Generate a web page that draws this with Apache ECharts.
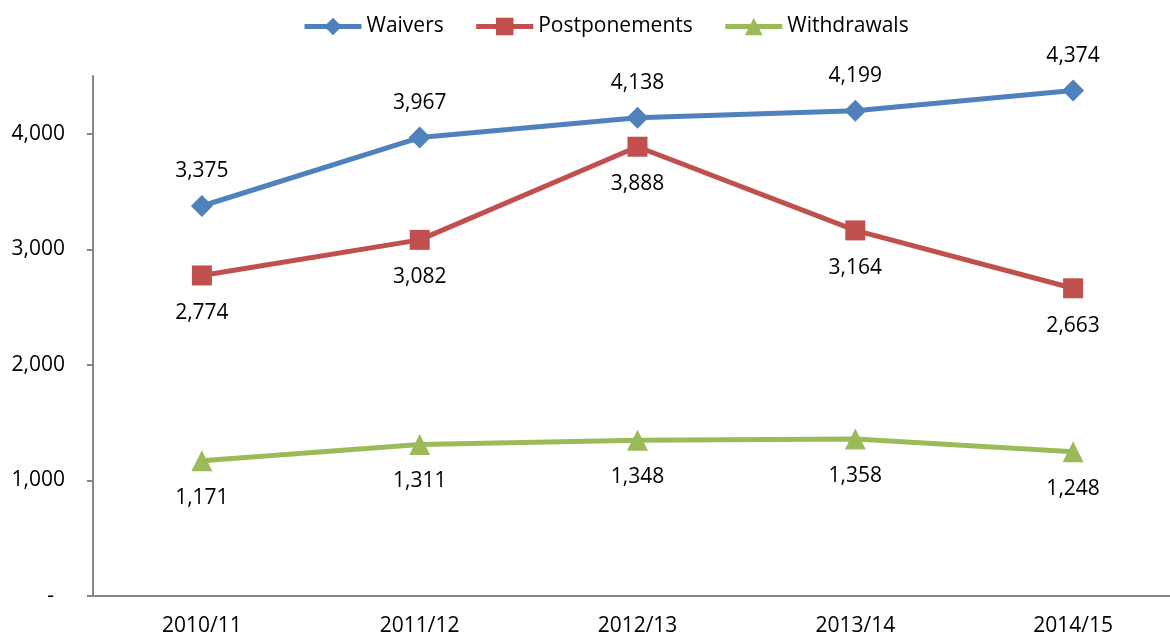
<!DOCTYPE html>
<html>
<head>
<meta charset="utf-8">
<script src="https://cdn.jsdelivr.net/npm/echarts@6/dist/echarts.min.js"></script>
<style>
  html, body { margin: 0; padding: 0; background: #fff; overflow: hidden; }
  #wrap { width: 1170px; height: 637px; overflow: hidden; }
  /* plot runs a little past the right edge, as in the original */
  #chart { width: 1182px; height: 637px; }
</style>
</head>
<body>
<div id="wrap"><div id="chart"></div></div>
<script>
  // data
  const years = ['2010/11', '2011/12', '2012/13', '2013/14', '2014/15']
  const waivers = [3375, 3967, 4138, 4199, 4374]
  const postponements = [2774, 3082, 3888, 3164, 2663]
  const withdrawals = [1171, 1311, 1348, 1358, 1248]
  const yTicks = [0, 1000, 2000, 3000, 4000]

  const font = 'Open Sans'
  const fmt = v => v === 0 ? '{d|-}' : v.toLocaleString('en-US')

  const chart = echarts.init(document.getElementById('chart'))

  const labelStyle = (pos, dist) => ({
    show: true,
    position: pos,
    distance: dist,
    color: '#000',
    fontFamily: font,
    fontSize: 21,
    formatter: p => p.value.toLocaleString('en-US')
  })

  chart.setOption({
    animation: false,
    legend: {
      top: 11,
      left: 297,
      itemWidth: 57,
      itemHeight: 22,
      itemGap: 30,
      lineStyle: { width: 5 },
      textStyle: { fontFamily: font, fontSize: 21, color: '#000' },
      data: ['Waivers', 'Postponements', 'Withdrawals']
    },
    grid: {
      left: 93,
      right: 0,
      top: 76,
      bottom: 40,
      containLabel: false
    },
    xAxis: {
      type: 'category',
      data: years,
      boundaryGap: true,
      axisLine: { lineStyle: { color: '#868686', width: 2 } },
      axisTick: { show: false },
      axisLabel: { color: '#000', fontFamily: font, fontSize: 21, margin: 20 }
    },
    yAxis: {
      type: 'value',
      min: 0,
      max: 4500,
      interval: 1000,
      splitLine: { show: false },
      axisLine: { show: true, lineStyle: { color: '#868686', width: 2 } },
      axisTick: { show: true, length: 6, customValues: yTicks, lineStyle: { color: '#868686', width: 2 } },
      axisLabel: {
        customValues: yTicks,
        color: '#000',
        fontFamily: font,
        fontSize: 21,
        margin: 28,
        formatter: fmt,
        rich: { d: { fontFamily: font, fontSize: 21, color: '#000', padding: [0, 11, 0, 0] } }
      }
    },
    series: [
      {
        name: 'Waivers',
        type: 'line',
        data: waivers,
        symbol: 'diamond',
        symbolSize: 22,
        itemStyle: { color: '#4F81BD' },
        lineStyle: { color: '#4F81BD', width: 5 },
        label: labelStyle('top', 13)
      },
      {
        name: 'Postponements',
        type: 'line',
        data: postponements,
        symbol: 'rect',
        symbolSize: 20,
        itemStyle: { color: '#C0504D' },
        lineStyle: { color: '#C0504D', width: 5 },
        label: labelStyle('bottom', 17)
      },
      {
        name: 'Withdrawals',
        type: 'line',
        data: withdrawals,
        symbol: 'triangle',
        symbolSize: 21,
        itemStyle: { color: '#9BBB59' },
        lineStyle: { color: '#9BBB59', width: 5 },
        label: labelStyle('bottom', 16)
      }
    ]
  })
</script>
</body>
</html>
